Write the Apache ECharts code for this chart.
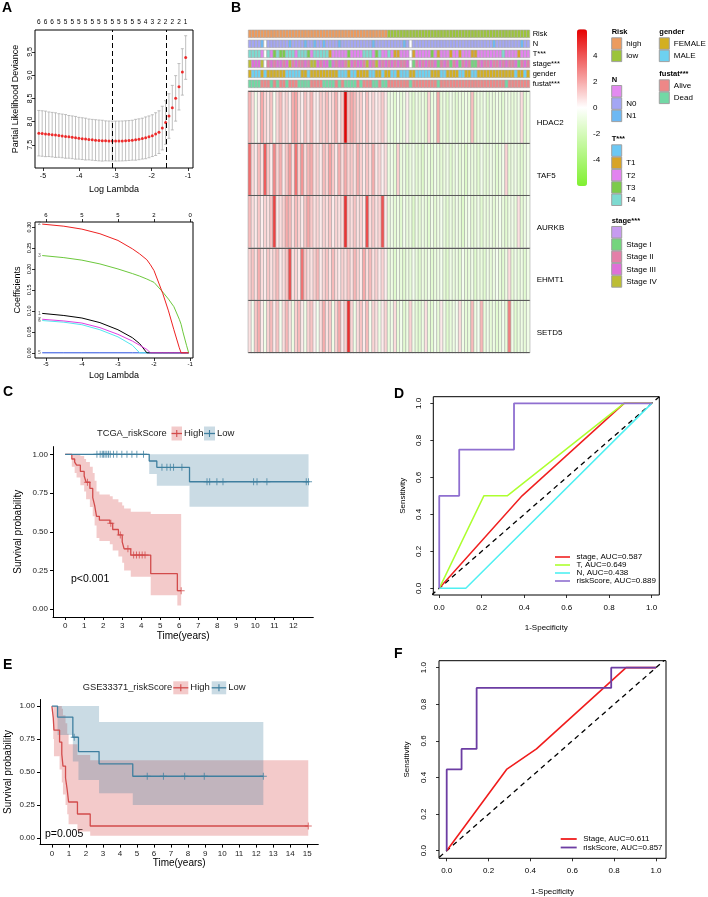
<!DOCTYPE html>
<html>
<head>
<meta charset="utf-8">
<title>Figure</title>
<script src="https://cdn.jsdelivr.net/npm/echarts@6/dist/echarts.min.js"></script>
<style>
  html, body { margin: 0; padding: 0; background: #fff; }
  #main { width: 708px; height: 897px; }
</style>
</head>
<body>
<div id="main"></div>
<script>
var FONT = '"Liberation Sans", Arial, sans-serif';

// ---------- A: cross-validation curve ----------
var cvLogLambda = [-5.114, -5.022, -4.930, -4.838, -4.746, -4.654, -4.561, -4.469, -4.377, -4.285,
  -4.193, -4.101, -4.009, -3.917, -3.825, -3.733, -3.641, -3.549, -3.456, -3.364,
  -3.272, -3.180, -3.088, -2.996, -2.904, -2.812, -2.720, -2.628, -2.536, -2.444,
  -2.351, -2.259, -2.167, -2.075, -1.983, -1.891, -1.799, -1.707, -1.615, -1.523,
  -1.431, -1.339, -1.247, -1.154, -1.062];
var cvMean = [7.750, 7.743, 7.735, 7.727, 7.718, 7.709, 7.700, 7.691, 7.681, 7.671,
  7.661, 7.651, 7.641, 7.632, 7.623, 7.615, 7.607, 7.600, 7.594, 7.589,
  7.585, 7.582, 7.580, 7.580, 7.581, 7.583, 7.587, 7.592, 7.599, 7.608,
  7.619, 7.633, 7.650, 7.671, 7.697, 7.730, 7.772, 7.860, 7.980, 8.120,
  8.300, 8.500, 8.750, 9.070, 9.380];
var cvSd = [0.49, 0.49, 0.49, 0.48, 0.48, 0.48, 0.47, 0.47, 0.47, 0.46,
  0.46, 0.46, 0.45, 0.45, 0.45, 0.44, 0.44, 0.44, 0.44, 0.44,
  0.43, 0.43, 0.43, 0.43, 0.43, 0.43, 0.43, 0.43, 0.43, 0.44,
  0.44, 0.44, 0.45, 0.45, 0.45, 0.46, 0.46, 0.47, 0.47, 0.48,
  0.48, 0.49, 0.50, 0.50, 0.47];
var cvNzero = [6, 6, 6, 6, 6, 6, 5, 5, 5, 5,
  5, 5, 5, 5, 5, 5, 5, 5, 5, 5,
  5, 5, 5, 5, 5, 5, 5, 5, 5, 5,
  5, 5, 4, 4, 3, 3, 2, 2, 2, 2,
  2, 2, 2, 2, 1];
var cvLambdaLines = [-3.088, -1.615];

// ---------- A: coefficient paths ----------
var pathLogLambda = [-5.1, -4.5, -4.0, -3.5, -3.0, -2.6, -2.4, -2.2, -2.1, -2.0, -1.76, -1.6, -1.45, -1.3, -1.25, -1.2, -1.1, -1.04];
var coefV2 = [0.307, 0.302, 0.295, 0.284, 0.268, 0.248, 0.236, 0.222, 0.210, 0.196, 0.142, 0.100, 0.055, 0.012, 0, 0, 0, 0];
var coefV3 = [0.232, 0.227, 0.221, 0.212, 0.200, 0.189, 0.183, 0.176, 0.172, 0.168, 0.145, 0.128, 0.110, 0.080, 0.068, 0.050, 0.018, 0];
var coefV1 = [0.094, 0.089, 0.083, 0.072, 0.055, 0.036, 0.022, 0, 0, 0, 0, 0, 0, 0, 0, 0, 0, 0];
var coefV7 = [0.080, 0.076, 0.071, 0.060, 0.044, 0.028, 0.018, 0.008, 0, 0, 0, 0, 0, 0, 0, 0, 0, 0];
var coefV6 = [0.077, 0.073, 0.067, 0.055, 0.038, 0.018, 0, 0, 0, 0, 0, 0, 0, 0, 0, 0, 0, 0];
var coefV5 = [0, 0, 0, 0, 0, 0, 0, 0, 0, 0, 0, 0, 0, 0, 0, 0, 0, 0];
var pathTopAt = [-5, -4, -3, -2, -1];
var pathTopNz = [6, 5, 5, 2, 0];

// ---------- B: heatmap ----------
var heatGenes = ['HDAC2', 'TAF5', 'AURKB', 'EHMT1', 'SETD5'];
var heatHDAC2 = [1.8, 0.8, -0.6, 0.4, 2.0, 1.0, 0.6, 1.4, -0.4, 0.9,
  1.6, 0.6, 1.1, 0.4, 1.9, 2.2, 0.9, 0.4, 1.5, 0.7,
  1.8, 0.5, 0.4, 1.3, 0.9, 1.6, 0.7, 1.0, 1.9, 0.5,
  1.2, 5.9, 1.5, 2.0, 1.6, 0.9, 1.2, 0.4, 1.5, 0.5,
  1.0, 0.4, 0.7, 1.2, 0.5,
  -1.0, -0.7, -1.3, -0.5, -1.1, -0.8, 0.4, -1.0, -1.4, -0.7,
  -1.1, -0.8, -1.3, 1.0, -1.0, -0.7, 2.0, -1.1, -0.8, -1.4,
  -0.6, -1.0, -1.3, -0.8, -1.1, -0.7, -1.0, 1.5, -1.3, -0.8,
  -1.0, -0.6, -1.4, -0.8, -1.1, -0.7, -1.0, -1.3, -0.6, -0.8,
  -1.1, -1.0, -0.7, 0.8, -1.3, -0.8];
var heatTAF5 = [3.4, 0.9, 0.5, 1.6, 0.7, 3.8, 1.3, 0.4, 2.8, 1.0,
  1.9, 0.5, 1.4, 2.3, 0.7, 3.3, 1.0, 2.5, 0.8, 1.7,
  2.0, 0.7, 1.1, 0.5, 1.6, 1.0, 2.2, 1.3, 0.5, 1.9,
  0.8, 2.0, 1.0, 1.3, 0.7, 1.9, 1.1, 0.5, 1.4, 0.7,
  1.9, 0.5, 1.0, 0.4, 0.8,
  -0.9, -0.6, -1.2, 1.1, -1.0, -0.7, -1.3, -0.9, -0.6, -1.2,
  -1.0, -1.5, -0.7, -0.9, -1.3, -0.6, -1.0, -1.2, -0.9, -0.7,
  -1.3, -1.0, -0.6, -1.2, -0.9, -1.5, -0.7, -1.0, -0.9, -1.3,
  -0.6, -1.0, -1.2, -0.7, -0.9, -1.3, -1.0, -0.6, 1.0, -1.2,
  -0.9, -0.7, -1.0, -1.3, -0.9, -0.6];
var heatAURKB = [1.6, 0.8, 0.5, 1.3, 0.4, 1.0, 0.7, 1.4, 4.4, 0.5,
  0.8, 1.1, 2.0, 1.7, 0.7, 1.6, 1.0, 0.5, 1.4, 2.1,
  1.3, 0.7, 1.0, 0.5, 1.1, 0.8, 1.4, 0.5, 1.0, 0.7,
  0.8, 4.8, 1.1, 0.8, 1.4, 0.7, 1.0, 0.5, 4.2, 0.8,
  1.3, 0.7, 1.0, 4.0, 0.5,
  -1.0, -0.7, -1.2, -0.8, -1.3, -0.5, -1.0, -0.8, -1.5, -0.7,
  -1.2, -0.8, -1.0, -1.3, -0.7, -1.2, -0.8, -0.5, -1.0, -1.3,
  -0.8, -1.2, -0.7, -1.0, -1.5, -0.8, -0.5, -1.2, -1.0, -0.7,
  -1.3, -0.8, -1.0, -0.7, -1.2, -0.8, -0.5, -1.0, -1.3, -0.8,
  -0.7, -1.0, 0.7, -1.2, -0.8, -0.5];
var heatEHMT1 = [1.0, 1.4, 0.7, 1.9, 0.8, 0.5, 1.3, 0.7, 1.0, 1.6,
  0.5, 0.8, 1.4, 4.2, 0.7, 1.0, 0.5, 3.3, 1.3, 0.8,
  0.7, 1.1, 1.7, 0.5, 1.0, 1.4, 0.7, 1.6, 0.8, 0.5,
  1.1, 0.8, 1.4, 0.7, 1.7, 1.0, 0.5, 2.0, 0.8, 1.6,
  0.7, 1.1, 0.5, 1.0, 0.4,
  -1.1, -0.8, -1.4, -0.7, -1.0, -1.3, -0.8, -1.1, -0.5, -1.0,
  -1.4, -0.8, -1.1, -0.7, -1.3, -1.0, -0.8, -0.5, -1.1, -1.4,
  -0.7, -1.0, -0.8, -1.3, -0.5, -1.1, -1.0, -0.7, -1.4, -0.8,
  -1.0, -1.3, -0.7, -1.1, -0.8, -0.5, -1.0, -1.3, -0.8, 0.8,
  -1.1, -0.7, -1.0, -0.8, -1.3, -0.7];
var heatSETD5 = [0.7, -0.5, 1.3, 1.9, 0.5, -0.7, 1.0, 1.6, 0.5, 1.4,
  -0.5, 0.8, 1.7, 0.7, -0.8, 1.1, 1.6, 0.5, -0.7, 1.0,
  1.4, 0.4, -0.5, 0.8, 1.9, 0.7, 1.3, -0.7, 1.0, 2.0,
  0.5, 1.1, 4.9, 1.0, -0.7, 0.8, 1.4, 0.5, 1.6, -0.5,
  1.0, 0.7, -0.8, 0.5, 1.0,
  -1.0, -0.7, 0.8, -1.1, -0.5, -1.3, -0.8, 1.0, -0.7, -1.1,
  -1.4, -0.8, 0.7, -1.0, -1.3, -0.5, -1.1, 0.5, -0.7, -1.4,
  -1.0, -0.8, -0.5, 0.8, -0.7, -1.1, -1.0, 1.6, -0.8, -0.5,
  1.7, -1.0, -0.7, -1.1, -0.8, -1.3, -1.0, -0.5, -1.1, 3.0,
  -0.7, -1.3, -1.0, -0.8, -1.1, -0.7];
var heatScaleTicks = [-4, -2, 0, 2, 4];

// annotation rows, one character per sample, in blocks of ten (x = missing)
var annNames = ['Risk', 'N', 'T***', 'stage***', 'gender', 'fustat***'];
var annRisk = ['HHHHHHHHHH', 'HHHHHHHHHH', 'HHHHHHHHHH', 'HHHHHHHHHH', 'HHHHHLLLLL',
  'LLLLLLLLLL', 'LLLLLLLLLL', 'LLLLLLLLLL', 'LLLLLLLLLL', 'L'].join('');
var annN = ['00001x0000', '0001000010', '0100100001', '0000000000', '1000000000',
  '10x0000000', '0000000000', '0000000001', '0000000010', '0'].join('');
var annT = ['44442x4234', '3344424443', '2444441222', '2232222444', '2342242112',
  '22x1222223', '2122212212', '2211222222', '2242222122', '2'].join('');
var annStage = ['43334x2323', '3234232232', '4432331323', '3243233243', '2432323232',
  '23x1232322', '3123212312', '3211232232', '2323223123', '2'].join('');
var annGender = ['FMMMFMFFFF', 'FFMMMMMFFM', 'FFFFFFFFFM', 'MMFMMFFFFM', 'MFFMFFMMFM',
  'MMFFMMMMMF', 'FFMMFFFFMM', 'FFMMFFFFFF', 'FFFFFFMFFM', 'F'].join('');
var annFustat = ['DDDDAAADAD', 'AADAAADDDD', 'AAAADDDDAD', 'ADDDDADAAA', 'DDADDAAAAA',
  'AADAAAAAAA', 'ADAAAAAAAA', 'AAAAAAAAAA', 'AAADAAAAAA', 'A'].join('');
var annLevels = [
  [['H', 'high', '#EC9B5E'], ['L', 'low', '#9CC43A']],
  [['', '', '#E38AF0'], ['0', 'N0', '#A4A6F4'], ['1', 'N1', '#6DB8F3']],
  [['', '', '#6CC8F4'], ['1', 'T1', '#D8A426'], ['2', 'T2', '#E283EF'], ['3', 'T3', '#7CCB4A'], ['4', 'T4', '#7DDAD0']],
  [['', '', '#C79BF0'], ['1', 'Stage I', '#74D57D'], ['2', 'Stage II', '#E47FA8'], ['3', 'Stage III', '#DE70D8'], ['4', 'Stage IV', '#BCBD35']],
  [['F', 'FEMALE', '#D3AF20'], ['M', 'MALE', '#6DD1F0']],
  [['A', 'Alive', '#EE8787'], ['D', 'Dead', '#72D8A5']]
];

// ---------- C: TCGA Kaplan-Meier ----------
var tcgaHighT  = [0, 0.35, 0.5, 0.6, 0.8, 1.0, 1.1, 1.3, 1.45, 1.55, 1.65, 1.8, 2.35, 2.5, 2.8, 3.0, 3.1, 3.45, 4.5, 5.9, 6.1];
var tcgaHighS  = [1, 0.97, 0.95, 0.93, 0.89, 0.86, 0.82, 0.78, 0.72, 0.67, 0.60, 0.575, 0.555, 0.515, 0.48, 0.435, 0.39, 0.35, 0.23, 0.12, 0.12];
var tcgaHighLo = [1, 0.92, 0.88, 0.85, 0.80, 0.76, 0.71, 0.66, 0.60, 0.54, 0.46, 0.44, 0.42, 0.38, 0.34, 0.30, 0.25, 0.21, 0.09, 0.025, 0.025];
var tcgaHighUp = [1, 1, 1, 1, 0.99, 0.97, 0.95, 0.92, 0.88, 0.83, 0.76, 0.74, 0.73, 0.71, 0.69, 0.67, 0.65, 0.63, 0.615, 0.615, 0.615];
var tcgaHighCens = [1.17, 2.4, 2.9, 3.3, 3.6, 3.75, 3.9, 4.05, 4.2, 6.1];
var tcgaLowT  = [0, 4.42, 4.82, 6.54, 12.8];
var tcgaLowS  = [1, 0.957, 0.916, 0.823, 0.823];
var tcgaLowLo = [1, 0.873, 0.797, 0.662, 0.662];
var tcgaLowUp = [1, 1, 1, 1, 1];
var tcgaLowCens = [1.67, 1.84, 1.95, 2.02, 2.1, 2.19, 2.28, 2.37, 2.54, 2.72, 2.98, 3.25, 3.51, 3.77, 4.12,
  5.09, 5.35, 5.53, 5.70, 6.14, 7.46, 7.6, 7.98, 8.3, 9.91, 10.09, 10.61, 12.68, 12.8];

// ---------- E: GSE33371 Kaplan-Meier ----------
var geoHighT  = [0, 0.08, 0.12, 0.45, 0.58, 0.65, 0.80, 0.90, 0.98, 1.50, 2.25, 15.06];
var geoHighS  = [1, 0.909, 0.818, 0.727, 0.636, 0.545, 0.455, 0.364, 0.273, 0.182, 0.091, 0.091];
var geoHighLo = [1, 0.75, 0.62, 0.52, 0.42, 0.33, 0.25, 0.18, 0.105, 0.05, 0.018, 0.018];
var geoHighUp = [1, 1, 1, 1, 0.98, 0.93, 0.87, 0.79, 0.71, 0.63, 0.59, 0.59];
var geoHighCens = [15.06];
var geoLowT  = [0, 0.33, 1.23, 1.56, 2.77, 4.75, 12.42];
var geoLowS  = [1, 0.917, 0.764, 0.655, 0.562, 0.468, 0.468];
var geoLowLo = [1, 0.78, 0.58, 0.44, 0.34, 0.25, 0.25];
var geoLowUp = [1, 1, 1, 1, 0.88, 0.88, 0.88];
var geoLowCens = [1.31, 5.6, 6.55, 7.8, 8.95, 12.42];

// ---------- D / F: ROC ----------
var rocDStageX = [0, 0.39, 0.87, 1], rocDStageY = [0, 0.5, 1, 1];
var rocDTX = [0, 0.21, 0.32, 0.87, 1], rocDTY = [0, 0.5, 0.5, 1, 1];
var rocDNX = [0, 0.125, 1], rocDNY = [0, 0, 1];
var rocDRiskX = [0, 0, 0.094, 0.094, 0.352, 0.352, 1], rocDRiskY = [0, 0.5, 0.5, 0.75, 0.75, 1, 1];
var rocFStageX = [0, 0.286, 0.429, 0.857, 1], rocFStageY = [0, 0.444, 0.556, 1, 1];
var rocFRiskX = [0, 0, 0.071, 0.071, 0.143, 0.143, 0.786, 0.786, 1], rocFRiskY = [0, 0.444, 0.444, 0.556, 0.556, 0.889, 0.889, 1, 1];
var diagRef = [-0.1, 1.1];
var rocTicks = [0, 0.2, 0.4, 0.6, 0.8, 1.0];

// ---------- helpers ----------
function zip(xs, ys) { return xs.map(function (x, i) { return [x, ys[i]]; }); }
function survAt(T, S, t) {
  var s = S[0];
  for (var i = 0; i < T.length; i++) { if (T[i] <= t) s = S[i]; }
  return s;
}
function txtStyle(size, extra) {
  var o = { fontSize: size, fontFamily: FONT, color: '#000' };
  for (var k in extra) o[k] = extra[k];
  return o;
}
// base-R style value axis (box drawn by grid)
function rAxis(grid, min, max, ticks, o) {
  o = o || {};
  return {
    gridIndex: grid, type: 'value', min: min, max: max, position: o.position,
    axisLine: { show: false, onZero: false },
    splitLine: { show: false },
    axisTick: { show: o.noTick ? false : true, length: 3, customValues: ticks, lineStyle: { color: '#000', width: 0.8 } },
    axisLabel: txtStyle(o.fs || 7, { customValues: o.labelAt || ticks, margin: o.margin || 4, rotate: o.rotate || 0, formatter: o.fmt }),
    name: o.name, nameLocation: 'middle', nameGap: o.nameGap,
    nameTextStyle: txtStyle(o.nameFs || 9)
  };
}
// ggplot / survminer style axis
function ggAxis(grid, min, max, ticks, o) {
  return {
    gridIndex: grid, type: 'value', min: min, max: max,
    axisLine: { show: true, onZero: false, lineStyle: { color: '#000', width: 1 } },
    splitLine: { show: false },
    axisTick: { show: true, length: 3, customValues: ticks, lineStyle: { color: '#000', width: 1 } },
    axisLabel: txtStyle(8, { customValues: ticks, margin: 5, color: '#222', formatter: o.fmt }),
    name: o.name, nameLocation: 'middle', nameGap: o.nameGap, nameTextStyle: txtStyle(10)
  };
}
function bandSeries(xi, yi, T, lo, hi, fill) {
  return {
    type: 'custom', xAxisIndex: xi, yAxisIndex: yi, silent: true, z: 1,
    data: T.map(function (t, i) { return [t, lo[i], hi[i]]; }),
    renderItem: function (params, api) {
      if (params.dataIndex !== 0) return null;
      var up = [], dn = [];
      for (var i = 0; i < T.length - 1; i++) {
        up.push(api.coord([T[i], hi[i]]), api.coord([T[i + 1], hi[i]]));
        dn.push(api.coord([T[i], lo[i]]), api.coord([T[i + 1], lo[i]]));
      }
      return { type: 'polygon', shape: { points: up.concat(dn.reverse()) }, style: { fill: fill } };
    }
  };
}
var plusSymbol = 'path://M-0.55,-4H0.55V-0.55H4V0.55H0.55V4H-0.55V0.55H-4V-0.55H-0.55Z';
function kmSeries(xi, yi, T, S, cens, color) {
  return [
    { type: 'line', xAxisIndex: xi, yAxisIndex: yi, step: 'end', data: zip(T, S), symbol: 'none',
      lineStyle: { color: color, width: 1.3 }, z: 3, silent: true },
    { type: 'scatter', xAxisIndex: xi, yAxisIndex: yi, symbol: plusSymbol, symbolSize: 7, z: 4, silent: true,
      data: cens.map(function (t) { return [t, survAt(T, S, t)]; }), itemStyle: { color: color } }
  ];
}
function rocLine(xi, yi, name, xs, ys, color, w) {
  return { type: 'line', name: name, xAxisIndex: xi, yAxisIndex: yi, data: zip(xs, ys), symbol: 'none',
    lineStyle: { color: color, width: w }, itemStyle: { color: color }, silent: true };
}
function diagLine(xi, yi) {
  return { type: 'line', xAxisIndex: xi, yAxisIndex: yi, data: zip(diagRef, diagRef), symbol: 'none', silent: true,
    lineStyle: { color: '#000', width: 1.3, type: [5, 4] } };
}

// ---------- axes ----------
var evenLambda = cvLogLambda.filter(function (_, i) { return i % 2 === 0; });
function nearestIdx(arr, v) {
  var best = 0;
  for (var i = 1; i < arr.length; i++) if (Math.abs(arr[i] - v) < Math.abs(arr[best] - v)) best = i;
  return best;
}
var sampleIds = heatHDAC2.map(function (_, i) { return 'S' + (i + 1); });

var grids = [
  { left: 35, top: 30, width: 158, height: 138, show: true, borderColor: '#000', borderWidth: 1 },      // A top
  { left: 35, top: 222, width: 158, height: 136, show: true, borderColor: '#000', borderWidth: 1 },     // A bottom
  { left: 248.3, top: 28.85, width: 281.4, height: 60 },                                                // B annotations
  { left: 248.3, top: 91, width: 281.4, height: 261.7 },                                                // B heatmap
  { left: 577, top: 29.3, width: 10, height: 156.7 },                                                   // B colour key labels
  { left: 53, top: 446.6, width: 260.3, height: 170.4 },                                                // C
  { left: 433.3, top: 396.7, width: 226, height: 198.3, show: true, borderColor: '#000', borderWidth: 1 }, // D
  { left: 40, top: 699.5, width: 278.3, height: 145.1 },                                                // E
  { left: 439, top: 660.7, width: 227, height: 197.6, show: true, borderColor: '#000', borderWidth: 1 }  // F
];

var xAxes = [
  rAxis(0, -5.22, -0.86, pathTopAt, { name: 'Log Lambda', nameGap: 17, margin: 5, fs: 7 }),
  rAxis(0, -5.22, -0.86, evenLambda, { position: 'top', noTick: true, margin: 4, fs: 6.5,
    fmt: function (v) { return String(cvNzero[nearestIdx(cvLogLambda, v)]); } }),
  rAxis(1, -5.3, -0.92, pathTopAt, { name: 'Log Lambda', nameGap: 13, margin: 3.5, fs: 6 }),
  rAxis(1, -5.3, -0.92, pathTopAt, { position: 'top', margin: 4, fs: 6,
    fmt: function (v) { return String(pathTopNz[nearestIdx(pathTopAt, v)]); } }),
  { gridIndex: 2, type: 'category', data: sampleIds, show: false },
  { gridIndex: 3, type: 'category', data: sampleIds, show: false },
  { gridIndex: 4, type: 'value', min: 0, max: 1, show: false },
  ggAxis(5, -0.64, 13.05, [0, 1, 2, 3, 4, 5, 6, 7, 8, 9, 10, 11, 12], { name: 'Time(years)', nameGap: 14 }),
  rAxis(6, -0.028, 1.036, rocTicks, { name: '1-Specificity', nameGap: 29, margin: 9, fs: 8, nameFs: 8,
    fmt: function (v) { return v.toFixed(1); } }),
  ggAxis(7, -0.7, 15.65, [0, 1, 2, 3, 4, 5, 6, 7, 8, 9, 10, 11, 12, 13, 14, 15], { name: 'Time(years)', nameGap: 13 }),
  rAxis(8, -0.0368, 1.0478, rocTicks, { name: '1-Specificity', nameGap: 29, margin: 8.5, fs: 8, nameFs: 8,
    fmt: function (v) { return v.toFixed(1); } })
];

var yAxes = [
  rAxis(0, 7.0, 9.973, [7.5, 8.0, 8.5, 9.0, 9.5], { rotate: 90, margin: 1.5, fs: 7, name: 'Partial Likelihood Deviance', nameGap: 15,
    fmt: function (v) { return v.toFixed(1); } }),
  rAxis(1, -0.0124, 0.312, [0, 0.05, 0.10, 0.15, 0.20, 0.25, 0.30], { rotate: 90, margin: 2.5, fs: 5.5, name: 'Coefficients', nameGap: 13,
    fmt: function (v) { return v.toFixed(2); } }),
  { gridIndex: 2, type: 'category', data: annNames, inverse: true, position: 'right',
    axisLine: { show: false }, axisTick: { show: false }, splitLine: { show: false },
    axisLabel: txtStyle(7.5, { margin: 3, interval: 0 }) },
  { gridIndex: 3, type: 'category', data: heatGenes, inverse: true, position: 'right', z: 5,
    axisLine: { show: false }, axisTick: { show: false },
    splitLine: { show: true, interval: 0, lineStyle: { color: '#5A5A5A', width: 1 } },
    axisLabel: txtStyle(8, { margin: 7, interval: 0, verticalAlign: 'top', padding: [2, 0, 0, 0] }) },
  { gridIndex: 4, type: 'value', min: -6, max: 6, position: 'right',
    axisLine: { show: false }, axisTick: { show: false }, splitLine: { show: false },
    axisLabel: txtStyle(8, { customValues: heatScaleTicks, margin: 6 }) },
  ggAxis(5, -0.05, 1.05, [0, 0.25, 0.5, 0.75, 1], { name: 'Survival probability', nameGap: 30,
    fmt: function (v) { return v.toFixed(2); } }),
  rAxis(6, -0.036, 1.036, rocTicks, { rotate: 90, margin: 11, fs: 8, nameFs: 8, name: 'Sensitivity', nameGap: 27,
    fmt: function (v) { return v.toFixed(1); } }),
  ggAxis(7, -0.05, 1.05, [0, 0.25, 0.5, 0.75, 1], { name: 'Survival probability', nameGap: 27,
    fmt: function (v) { return v.toFixed(2); } }),
  rAxis(8, -0.0415, 1.038, rocTicks, { rotate: 90, margin: 11, fs: 8, nameFs: 8, name: 'Sensitivity', nameGap: 28,
    fmt: function (v) { return v.toFixed(1); } })
];

// ---------- series ----------
var series = [];

// A top: error bars + points
series.push({
  type: 'custom', xAxisIndex: 0, yAxisIndex: 0, silent: true,
  data: cvLogLambda.map(function (x, i) { return [x, cvMean[i] - cvSd[i], cvMean[i] + cvSd[i]]; }),
  encode: { x: 0, y: [1, 2] },
  renderItem: function (params, api) {
    var a = api.coord([api.value(0), api.value(1)]);
    var b = api.coord([api.value(0), api.value(2)]);
    var st = { stroke: '#B0B0B0', lineWidth: 0.8 };
    return { type: 'group', children: [
      { type: 'line', shape: { x1: a[0], y1: a[1], x2: b[0], y2: b[1] }, style: st },
      { type: 'line', shape: { x1: a[0] - 1.5, y1: a[1], x2: a[0] + 1.5, y2: a[1] }, style: st },
      { type: 'line', shape: { x1: b[0] - 1.5, y1: b[1], x2: b[0] + 1.5, y2: b[1] }, style: st }
    ] };
  }
});
series.push({
  type: 'scatter', xAxisIndex: 0, yAxisIndex: 0, silent: true, symbolSize: 3,
  data: zip(cvLogLambda, cvMean), itemStyle: { color: '#F00000' },
  markLine: { silent: true, symbol: 'none', label: { show: false },
    lineStyle: { color: '#000', type: [5, 3], width: 1 },
    data: cvLambdaLines.map(function (v) { return { xAxis: v }; }) }
});

// A bottom: coefficient paths
var coefSeries = [
  [coefV5, '#2850E0', '5'], [coefV6, '#55E6EE', '6'], [coefV1, '#000000', '1'],
  [coefV7, '#E040E0', '7'], [coefV3, '#6CC83C', '3'], [coefV2, '#EE2222', '2']
];
coefSeries.forEach(function (c) {
  series.push({ type: 'line', xAxisIndex: 2, yAxisIndex: 1, data: zip(pathLogLambda, c[0]), symbol: 'none',
    silent: true, lineStyle: { color: c[1], width: 1 } });
});
series.push({
  type: 'scatter', xAxisIndex: 2, yAxisIndex: 1, silent: true, symbolSize: 1, itemStyle: { color: 'rgba(0,0,0,0)' },
  data: coefSeries.map(function (c) { return [pathLogLambda[0], c[0][0], c[2]]; }),
  label: { show: true, position: 'left', distance: 1, fontSize: 5, fontFamily: FONT, color: '#444',
    formatter: function (p) { return String(p.value[2]); } }
});

// B annotations
var annRows = [annRisk, annN, annT, annStage, annGender, annFustat];
var annData = [];
annRows.forEach(function (row, r) {
  for (var c = 0; c < row.length; c++) {
    var code = row.charAt(c), col = '#FFFFFF';
    annLevels[r].forEach(function (lv) { if (lv[0] === code) col = lv[2]; });
    annData.push({ value: [c, r], itemStyle: { color: col } });
  }
});
series.push({
  type: 'custom', xAxisIndex: 4, yAxisIndex: 2, silent: true, data: annData,
  renderItem: function (params, api) {
    var p = api.coord([api.value(0), api.value(1)]);
    var s = api.size([1, 1]);
    var h = s[1] * 0.77;
    return { type: 'rect', shape: { x: p[0] - s[0] / 2, y: p[1] - h / 2, width: s[0], height: h },
      style: { fill: api.visual('color'), stroke: '#A8A8A8', lineWidth: 0.6 } };
  }
});

// B heatmap
var heatRows = [heatHDAC2, heatTAF5, heatAURKB, heatEHMT1, heatSETD5];
var heatData = [];
heatRows.forEach(function (row, r) { row.forEach(function (v, c) { heatData.push([c, r, v]); }); });
var heatIndex = series.length;
series.push({
  type: 'heatmap', xAxisIndex: 5, yAxisIndex: 3, data: heatData, silent: true,
  itemStyle: { borderColor: '#A3A3A3', borderWidth: 0.6 }, emphasis: { disabled: true }
});

// C
series.push(bandSeries(7, 5, tcgaHighT, tcgaHighLo, tcgaHighUp, 'rgba(214,80,80,0.30)'));
series.push(bandSeries(7, 5, tcgaLowT, tcgaLowLo, tcgaLowUp, 'rgba(63,127,159,0.28)'));
series = series.concat(kmSeries(7, 5, tcgaHighT, tcgaHighS, tcgaHighCens, '#D24B4B'));
series = series.concat(kmSeries(7, 5, tcgaLowT, tcgaLowS, tcgaLowCens, '#3F7F9F'));

// E
series.push(bandSeries(9, 7, geoHighT, geoHighLo, geoHighUp, 'rgba(214,80,80,0.30)'));
series.push(bandSeries(9, 7, geoLowT, geoLowLo, geoLowUp, 'rgba(63,127,159,0.28)'));
series = series.concat(kmSeries(9, 7, geoHighT, geoHighS, geoHighCens, '#D24B4B'));
series = series.concat(kmSeries(9, 7, geoLowT, geoLowS, geoLowCens, '#3F7F9F'));

// D
series.push(diagLine(8, 6));
series.push(rocLine(8, 6, 'stage, AUC=0.587', rocDStageX, rocDStageY, '#F02020', 1.5));
series.push(rocLine(8, 6, 'T, AUC=0.649', rocDTX, rocDTY, '#ADFF2F', 1.5));
series.push(rocLine(8, 6, 'N, AUC=0.438', rocDNX, rocDNY, '#4FF0F2', 1.5));
series.push(rocLine(8, 6, 'riskScore, AUC=0.889', rocDRiskX, rocDRiskY, '#8F6FD0', 1.8));

// F
series.push(diagLine(10, 8));
series.push(rocLine(10, 8, 'Stage, AUC=0.611', rocFStageX, rocFStageY, '#F01C1C', 1.6));
series.push(rocLine(10, 8, 'riskScore, AUC=0.857', rocFRiskX, rocFRiskY, '#6C3DA3', 1.8));

// ---------- graphic: panel letters, p-values, legends ----------
var graphic = [];
function gtext(x, y, s, font, align, valign, color) {
  graphic.push({ type: 'text', x: x, y: y, silent: true,
    style: { text: s, font: font, fill: color || '#000', textAlign: align || 'left', textVerticalAlign: valign || 'middle' } });
}
var letterFont = 'bold 14px ' + FONT;
gtext(2, 8, 'A', letterFont);
gtext(231, 8, 'B', letterFont);
gtext(3, 392, 'C', letterFont);
gtext(394, 394, 'D', letterFont);
gtext(3, 665, 'E', letterFont);
gtext(394, 654, 'F', letterFont);
gtext(71, 579, 'p<0.001', '10.5px ' + FONT);
gtext(45, 834.5, 'p=0.005', '10.5px ' + FONT);

function kmKey(x, cy, w, h, color, fill, label) {
  graphic.push({ type: 'rect', silent: true, shape: { x: x, y: cy - h / 2, width: w, height: h }, style: { fill: fill } });
  graphic.push({ type: 'line', silent: true, shape: { x1: x, y1: cy, x2: x + w, y2: cy }, style: { stroke: color, lineWidth: 1.3 } });
  graphic.push({ type: 'line', silent: true, shape: { x1: x + w / 2, y1: cy - 3.5, x2: x + w / 2, y2: cy + 3.5 }, style: { stroke: color, lineWidth: 1.1 } });
  gtext(x + w + 2, cy, label, '9.5px ' + FONT, 'left', 'middle', '#222');
}
gtext(97, 433.5, 'TCGA_riskScore', '9.3px ' + FONT, 'left', 'middle', '#222');
kmKey(171.5, 433.5, 10.5, 14, '#D24B4B', 'rgba(214,80,80,0.30)', 'High');
kmKey(204, 433.5, 11, 14, '#3F7F9F', 'rgba(63,127,159,0.28)', 'Low');
gtext(82.7, 687.8, 'GSE33371_riskScore', '9.3px ' + FONT, 'left', 'middle', '#222');
kmKey(173.3, 687.8, 15, 13, '#D24B4B', 'rgba(214,80,80,0.30)', 'High');
kmKey(211.7, 687.8, 14.5, 13, '#3F7F9F', 'rgba(63,127,159,0.28)', 'Low');

// heatmap annotation legend
var annLegendPos = [[611.7, 32.3], [611.7, 80], [611.7, 139.3], [611.7, 221], [659.3, 32.3], [659.3, 74.3]];
annLegendPos.forEach(function (p, r) {
  gtext(p[0], p[1], annNames[r], 'bold 7.5px ' + FONT);
  annLevels[r].forEach(function (lv, k) {
    var y = p[1] + 5.5 + k * 12.3;
    graphic.push({ type: 'rect', silent: true, shape: { x: p[0], y: y, width: 10, height: 11.5 },
      style: { fill: lv[2], stroke: '#A0A0A0', lineWidth: 1 } });
    if (lv[1]) gtext(p[0] + 14.5, y + 6, lv[1], '8px ' + FONT);
  });
});

var option = {
  animation: false,
  backgroundColor: '#ffffff',
  textStyle: { fontFamily: FONT },
  grid: grids,
  xAxis: xAxes,
  yAxis: yAxes,
  visualMap: {
    type: 'continuous', min: -6, max: 6, seriesIndex: heatIndex, dimension: 2,
    orient: 'vertical', left: 577, top: 29.3, itemWidth: 10, itemHeight: 156.7, padding: 0,
    calculable: false, realtime: false, hoverLink: false, text: null, showLabel: false,
    inRange: { color: ['#80F030', '#FFFFFF', '#E60000'] }
  },
  legend: [
    { data: ['stage, AUC=0.587', 'T, AUC=0.649', 'N, AUC=0.438', 'riskScore, AUC=0.889'],
      orient: 'vertical', left: 555, top: 553, itemWidth: 15, itemHeight: 1.6, itemGap: 0, padding: 0,
      icon: 'rect', selectedMode: false, textStyle: txtStyle(8, { padding: [0, 0, 0, 1.5] }) },
    { data: ['Stage, AUC=0.611', 'riskScore, AUC=0.857'],
      orient: 'vertical', left: 560.7, top: 835, itemWidth: 16, itemHeight: 1.8, itemGap: 0.5, padding: 0,
      icon: 'rect', selectedMode: false, textStyle: txtStyle(8, { padding: [0, 0, 0, 1.5] }) }
  ],
  graphic: graphic,
  series: series
};

var chart = echarts.init(document.getElementById('main'));
chart.setOption(option);
</script>
</body>
</html>
